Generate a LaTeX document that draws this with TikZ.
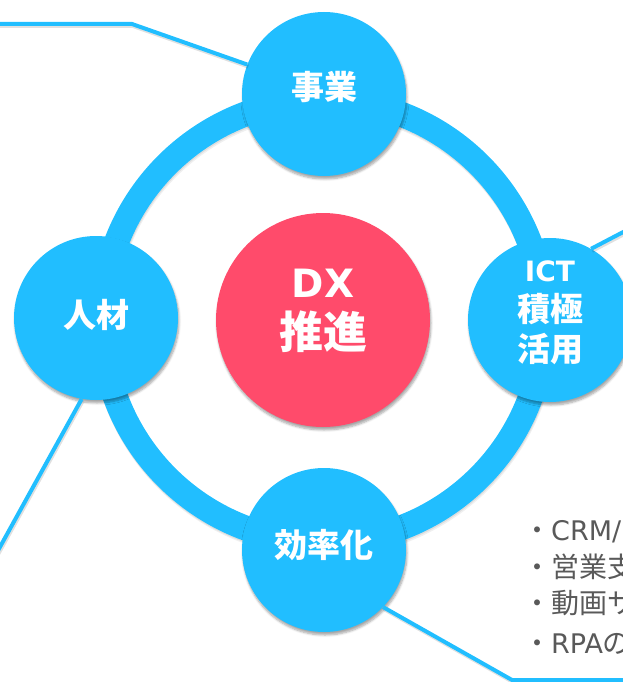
\documentclass[tikz,border=0pt]{standalone}
\usepackage{fontspec}
\setmainfont{DejaVu Sans}
\newfontfamily\jp{Noto Sans CJK JP}
\newfontfamily\lat{DejaVu Sans}
\usetikzlibrary{shadows.blur}
\definecolor{sky}{RGB}{33,190,255}
\definecolor{rose}{RGB}{255,75,107}
\definecolor{txtgray}{RGB}{89,89,89}
\newcommand{\lift}[2]{\raisebox{#1}[\height][\depth]{#2}}
\begin{document}
\begin{tikzpicture}[x=1pt,y=-1pt,
  hub/.style={circle, fill=sky, minimum size=164pt, inner sep=0pt, text=white, align=center,
    blur shadow={shadow xshift=1pt, shadow yshift=-3pt, shadow blur steps=6, shadow opacity=35}},
  link/.style={draw=sky, line width=4pt,
    preaction={draw=black, opacity=0.12, line width=4pt, transform canvas={shift={(1pt,-2pt)}}}},
  jpl/.style={font=\jp\bfseries\fontsize{33}{40}\selectfont},
  note/.style={anchor=base west, inner sep=0pt, text=txtgray, font=\jp\fontsize{28}{34}\selectfont}
]
\path[use as bounding box] (0,0) rectangle (623,682);
\clip (0,0) rectangle (623,682);

% ring with soft shadow
\draw[line width=25pt, black, opacity=0.06] (324,324) circle (221);
\draw[line width=25pt, black, opacity=0.08] (323.5,322.5) circle (221);
\draw[line width=25pt, sky] (323,321) circle (221);

% satellite nodes
\node[hub, jpl] (biz) at (324,94) {\lift{7pt}{事業}};
\node[hub, jpl] (hr) at (96,318) {\lift{3pt}{人材}};
\node[hub, jpl] (eff) at (324,550) {\lift{5pt}{効率化}};
\node[hub, font=\jp\bfseries\fontsize{33}{40}\selectfont] (ict) at (550,320)
  {\lift{7pt}{\parbox{100pt}{\centering{\lat\fontsize{28}{40}\selectfont ICT}\\積極\\活用}}};

% connectors
\coordinate (tl0) at (-10,24);
\coordinate (tl1) at (132,24);
\coordinate (rt) at (650,218);
\coordinate (lb) at (-10,565);
\coordinate (br1) at (512,680);
\coordinate (br2) at (650,680);
\draw[link] (tl0) -- (tl1) -- (biz.159);
\draw[link] (ict.60) -- (rt);
\draw[link] (hr.260) -- (lb);
\draw[link] (eff.-44) -- (br1) -- (br2);

% centre node
\node[circle, fill=rose, minimum size=214pt, inner sep=0pt, text=white, align=center,
  blur shadow={shadow xshift=1pt, shadow yshift=-3pt, shadow blur steps=6, shadow opacity=35},
  font=\fontsize{44}{51}\selectfont] (dx) at (323,320)
  {\lift{9pt}{\parbox{180pt}{\centering{\lat\bfseries\fontsize{39}{51}\selectfont DX}\\{\jp\bfseries 推進}}}};

% notes
\node[note] (n1) at (523,540) {・{\lat\fontsize{27}{34}\selectfont CRM/}};
\node[note] (n2) at (523,577) {・営業支};
\node[note] (n3) at (523,613) {・動画サ};
\node[note] (n4) at (523,653) {・{\lat\fontsize{27}{34}\selectfont RPA}の};
\end{tikzpicture}
\end{document}
